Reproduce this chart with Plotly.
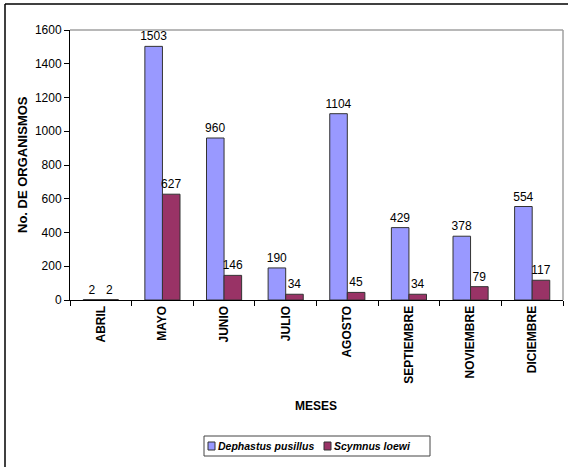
import plotly.graph_objects as go

meses = ["ABRIL", "MAYO", "JUNIO", "JULIO", "AGOSTO", "SEPTIEMBRE", "NOVIEMBRE", "DICIEMBRE"]
dephastus = [2, 1503, 960, 190, 1104, 429, 378, 554]
scymnus = [2, 627, 146, 34, 45, 34, 79, 117]
series_names = ["Dephastus pusillus", "Scymnus loewi"]
series_colors = ["#9999FF", "#993366"]

FONT = "Liberation Sans, Arial, sans-serif"

W, H = 568, 467
L, R, T, B = 70, 5, 30, 167
pw, ph = W - L - R, H - T - B

def px(x):
    return (x - L) / pw

def py(y):
    return (H - B - y) / ph

fig = go.Figure()
for name, vals, col in zip(series_names, [dephastus, scymnus], series_colors):
    fig.add_trace(go.Bar(
        x=meses, y=vals, name=name,
        marker=dict(color=col, line=dict(color="#333333", width=1)),
        text=[str(v) for v in vals], textposition="outside", constraintext="none",
        textfont=dict(family=FONT, size=12, color="black"), cliponaxis=False,
        showlegend=False,
    ))

# manual legend (box, swatches, italic labels)
shapes = [
    dict(type="rect", xref="paper", yref="paper", x0=px(204), x1=px(430), y0=py(436), y1=py(456),
         line=dict(color="#444444", width=1), fillcolor="white"),
    dict(type="line", xref="paper", yref="paper", x0=0, x1=1, y0=1, y1=1,
         line=dict(color="#A0A0A0", width=1.5)),
    dict(type="line", xref="paper", yref="paper", x0=1, x1=1, y0=0, y1=1,
         line=dict(color="#A0A0A0", width=1.5)),
    dict(type="line", xref="paper", yref="paper", x0=px(5), x1=px(570), y0=py(4), y1=py(4),
         line=dict(color="black", width=1.5)),
    dict(type="line", xref="paper", yref="paper", x0=px(5), x1=px(5), y0=py(4), y1=py(470),
         line=dict(color="black", width=1.5)),
]
legend_x = [208, 324]
annotations = []
for lx, name, col in zip(legend_x, series_names, series_colors):
    shapes.append(dict(type="rect", xref="paper", yref="paper", x0=px(lx), x1=px(lx + 7),
                       y0=py(450), y1=py(442), line=dict(color="#333333", width=1), fillcolor=col))
    annotations.append(dict(text="<b><i>" + name + "</i></b>", xref="paper", yref="paper",
                            x=px(lx + 8), y=py(446), xanchor="left", yanchor="middle", showarrow=False,
                            font=dict(family=FONT, size=10.5, color="black")))

annotations += [
    dict(text="<b>No. DE ORGANISMOS</b>", xref="paper", yref="paper",
         x=px(22), y=py(165), textangle=-90, showarrow=False,
         font=dict(family=FONT, size=13, color="black"),
         xanchor="center", yanchor="middle"),
    dict(text="<b>MESES</b>", xref="paper", yref="paper",
         x=px(316), y=py(406), showarrow=False,
         font=dict(family=FONT, size=12, color="black"),
         xanchor="center", yanchor="middle"),
]

fig.update_layout(
    width=W, height=H,
    margin=dict(l=L, r=R, t=T, b=B),
    paper_bgcolor="white", plot_bgcolor="white",
    barmode="group", bargap=0.43, bargroupgap=0,
    font=dict(family=FONT, size=11, color="black"),
    showlegend=False,
    xaxis=dict(
        type="category", tickangle=-90, tickson="boundaries",
        ticks="outside", ticklen=5, tickcolor="black",
        showline=True, linecolor="black", linewidth=1, mirror=False,
        tickfont=dict(family=FONT, size=12, color="black", weight="bold"),
        showgrid=False,
    ),
    yaxis=dict(
        range=[0, 1600], dtick=200, ticks="outside", ticklen=5, tickcolor="black",
        showline=True, linecolor="black", linewidth=1,
        tickfont=dict(family=FONT, size=12, color="black"),
        showgrid=False, zeroline=False,
    ),
    shapes=shapes,
    annotations=annotations,
)

fig.write_html("out.html")
